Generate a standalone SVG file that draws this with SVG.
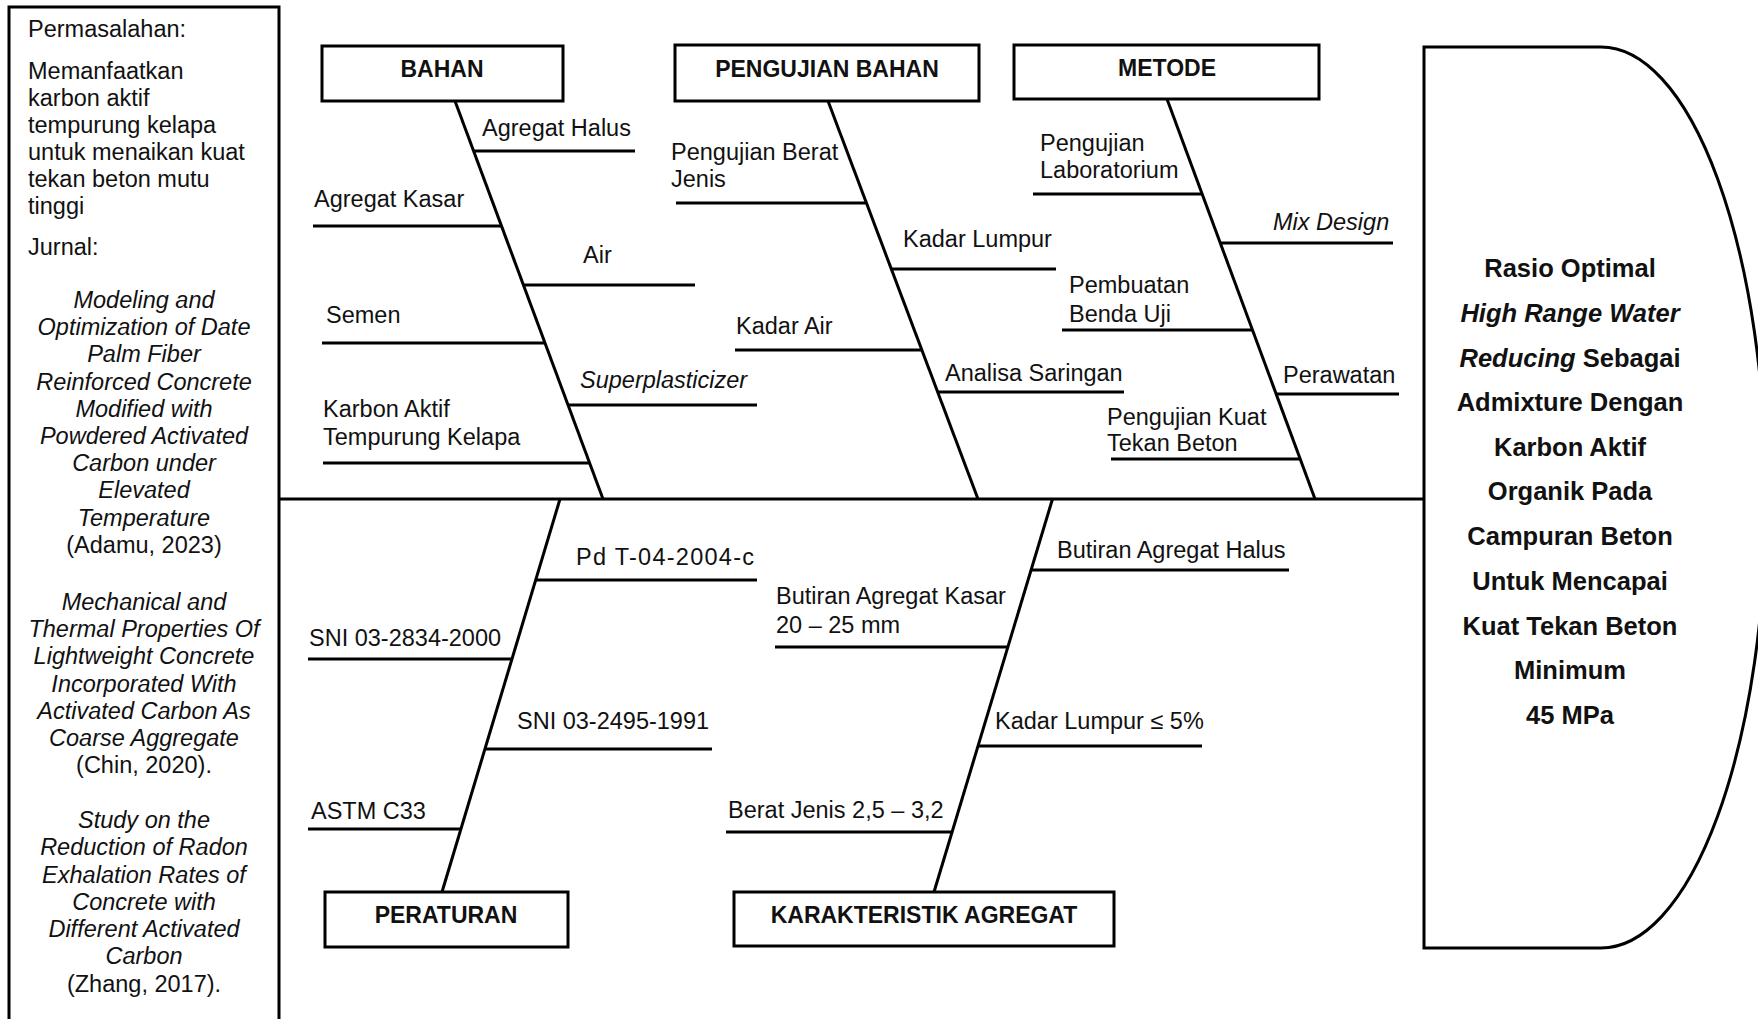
<svg xmlns="http://www.w3.org/2000/svg" width="1758" height="1019" viewBox="0 0 1758 1019">
<style>
.ln{stroke:#000;stroke-width:3;fill:none;stroke-linecap:butt}
.bx{stroke:#000;stroke-width:3;fill:#fff}
.t{font-family:"Liberation Sans",Arial,sans-serif;font-size:23.5px;fill:#111}
.i{font-style:italic}
.c{text-anchor:middle}
.cat{font-family:"Liberation Sans",Arial,sans-serif;font-size:23px;font-weight:bold;fill:#111;text-anchor:middle}
.hd{font-family:"Liberation Sans",Arial,sans-serif;font-size:25.5px;font-weight:bold;fill:#111;text-anchor:middle}
</style>
<rect width="1758" height="1019" fill="#fff"/>

<g id="problem">
<rect x="9" y="7" width="270" height="1040" class="bx"/>
<text class="t" x="28" y="37">Permasalahan:</text>
<text class="t" x="28" y="79">Memanfaatkan</text>
<text class="t" x="28" y="106">karbon aktif</text>
<text class="t" x="28" y="133">tempurung kelapa</text>
<text class="t" x="28" y="160">untuk menaikan kuat</text>
<text class="t" x="28" y="187">tekan beton mutu</text>
<text class="t" x="28" y="214">tinggi</text>
<text class="t" x="28" y="255">Jurnal:</text>
<g class="t c">
<text class="i" x="144" y="308">Modeling and</text>
<text class="i" x="144" y="335">Optimization of Date</text>
<text class="i" x="144" y="362">Palm Fiber</text>
<text class="i" x="144" y="390">Reinforced Concrete</text>
<text class="i" x="144" y="417">Modified with</text>
<text class="i" x="144" y="444">Powdered Activated</text>
<text class="i" x="144" y="471">Carbon under</text>
<text class="i" x="144" y="498">Elevated</text>
<text class="i" x="144" y="526">Temperature</text>
<text x="144" y="553">(Adamu, 2023)</text>
<text class="i" x="144" y="610">Mechanical and</text>
<text class="i" x="144" y="637">Thermal Properties Of</text>
<text class="i" x="144" y="664">Lightweight Concrete</text>
<text class="i" x="144" y="692">Incorporated With</text>
<text class="i" x="144" y="719">Activated Carbon As</text>
<text class="i" x="144" y="746">Coarse Aggregate</text>
<text x="144" y="773">(Chin, 2020).</text>
<text class="i" x="144" y="828">Study on the</text>
<text class="i" x="144" y="855">Reduction of Radon</text>
<text class="i" x="144" y="883">Exhalation Rates of</text>
<text class="i" x="144" y="910">Concrete with</text>
<text class="i" x="144" y="937">Different Activated</text>
<text class="i" x="144" y="964">Carbon</text>
<text x="144" y="992">(Zhang, 2017).</text>
</g>
</g>

<g id="connectors">
<line class="ln" x1="279" y1="499" x2="1424" y2="499"/>
<line class="ln" x1="455" y1="101" x2="603" y2="499"/>
<line class="ln" x1="828" y1="101" x2="978" y2="499"/>
<line class="ln" x1="1167" y1="99" x2="1315" y2="499"/>
<line class="ln" x1="560" y1="499" x2="442" y2="892"/>
<line class="ln" x1="1052.5" y1="499" x2="934" y2="892"/>
<!-- BAHAN branches -->
<line class="ln" x1="474" y1="151" x2="635" y2="151"/>
<line class="ln" x1="313" y1="226" x2="501" y2="226"/>
<line class="ln" x1="524" y1="285" x2="695" y2="285"/>
<line class="ln" x1="322" y1="343" x2="545" y2="343"/>
<line class="ln" x1="568" y1="405" x2="757" y2="405"/>
<line class="ln" x1="323" y1="463" x2="590" y2="463"/>
<!-- PENGUJIAN BAHAN branches -->
<line class="ln" x1="676" y1="203" x2="866" y2="203"/>
<line class="ln" x1="891" y1="269" x2="1056" y2="269"/>
<line class="ln" x1="735" y1="350" x2="922" y2="350"/>
<line class="ln" x1="938" y1="392" x2="1124" y2="392"/>
<!-- METODE branches -->
<line class="ln" x1="1033" y1="194" x2="1202" y2="194"/>
<line class="ln" x1="1220" y1="243" x2="1393" y2="243"/>
<line class="ln" x1="1062" y1="330" x2="1252" y2="330"/>
<line class="ln" x1="1276" y1="394" x2="1399" y2="394"/>
<line class="ln" x1="1111" y1="459" x2="1300" y2="459"/>
<!-- PERATURAN branches -->
<line class="ln" x1="536" y1="580" x2="757" y2="580"/>
<line class="ln" x1="308" y1="659" x2="512" y2="659"/>
<line class="ln" x1="484" y1="749" x2="712" y2="749"/>
<line class="ln" x1="308" y1="829" x2="460" y2="829"/>
<!-- KARAKTERISTIK AGREGAT branches -->
<line class="ln" x1="1031" y1="570" x2="1289" y2="570"/>
<line class="ln" x1="775" y1="647" x2="1008" y2="647"/>
<line class="ln" x1="978" y1="746" x2="1202" y2="746"/>
<line class="ln" x1="726" y1="832" x2="952" y2="832"/>
</g>

<g id="bahan">
<rect x="322" y="46" width="241" height="55" class="bx"/>
<text class="cat" x="442" y="77">BAHAN</text>
<text class="t" x="482" y="136">Agregat Halus</text>
<text class="t" x="314" y="207">Agregat Kasar</text>
<text class="t" x="583" y="263">Air</text>
<text class="t" x="326" y="323">Semen</text>
<text class="t i" x="580" y="388">Superplasticizer</text>
<text class="t" x="323" y="417">Karbon Aktif</text>
<text class="t" x="323" y="445">Tempurung Kelapa</text>
</g>

<g id="pengujian-bahan">
<rect x="675" y="45" width="304" height="56" class="bx"/>
<text class="cat" x="827" y="77">PENGUJIAN BAHAN</text>
<text class="t" x="671" y="160">Pengujian Berat</text>
<text class="t" x="671" y="187">Jenis</text>
<text class="t" x="903" y="247">Kadar Lumpur</text>
<text class="t" x="736" y="334">Kadar Air</text>
<text class="t" x="945" y="381">Analisa Saringan</text>
</g>

<g id="metode">
<rect x="1014" y="45" width="305" height="54" class="bx"/>
<text class="cat" x="1167" y="76">METODE</text>
<text class="t" x="1040" y="151">Pengujian</text>
<text class="t" x="1040" y="178">Laboratorium</text>
<text class="t i" x="1273" y="230">Mix Design</text>
<text class="t" x="1069" y="293">Pembuatan</text>
<text class="t" x="1069" y="322">Benda Uji</text>
<text class="t" x="1283" y="383">Perawatan</text>
<text class="t" x="1107" y="425">Pengujian Kuat</text>
<text class="t" x="1107" y="451">Tekan Beton</text>
</g>

<g id="peraturan">
<rect x="325" y="892" width="243" height="55" class="bx"/>
<text class="cat" x="446" y="923">PERATURAN</text>
<text class="t" x="576" y="565" textLength="178" lengthAdjust="spacing">Pd T-04-2004-c</text>
<text class="t" x="309" y="646">SNI 03-2834-2000</text>
<text class="t" x="517" y="729">SNI 03-2495-1991</text>
<text class="t" x="311" y="819">ASTM C33</text>
</g>

<g id="karakteristik-agregat">
<rect x="734" y="892" width="380" height="54" class="bx"/>
<text class="cat" x="924" y="923">KARAKTERISTIK AGREGAT</text>
<text class="t" x="1057" y="558">Butiran Agregat Halus</text>
<text class="t" x="776" y="604">Butiran Agregat Kasar</text>
<text class="t" x="776" y="633">20 – 25 mm</text>
<text class="t" x="995" y="729">Kadar Lumpur ≤ 5%</text>
<text class="t" x="728" y="818">Berat Jenis 2,5 – 3,2</text>
</g>

<g id="head">
<path class="bx" d="M1424,47 H1601 A165,450.5 0 0 1 1601,948 H1424 Z"/>
<text class="hd" x="1570" y="277">Rasio Optimal</text>
<text class="hd" x="1570" y="322"><tspan font-style="italic">High Range Water</tspan></text>
<text class="hd" x="1570" y="367"><tspan font-style="italic">Reducing</tspan> Sebagai</text>
<text class="hd" x="1570" y="411">Admixture Dengan</text>
<text class="hd" x="1570" y="456">Karbon Aktif</text>
<text class="hd" x="1570" y="500">Organik Pada</text>
<text class="hd" x="1570" y="545">Campuran Beton</text>
<text class="hd" x="1570" y="590">Untuk Mencapai</text>
<text class="hd" x="1570" y="635">Kuat Tekan Beton</text>
<text class="hd" x="1570" y="679">Minimum</text>
<text class="hd" x="1570" y="724">45 MPa</text>
</g>
</svg>
